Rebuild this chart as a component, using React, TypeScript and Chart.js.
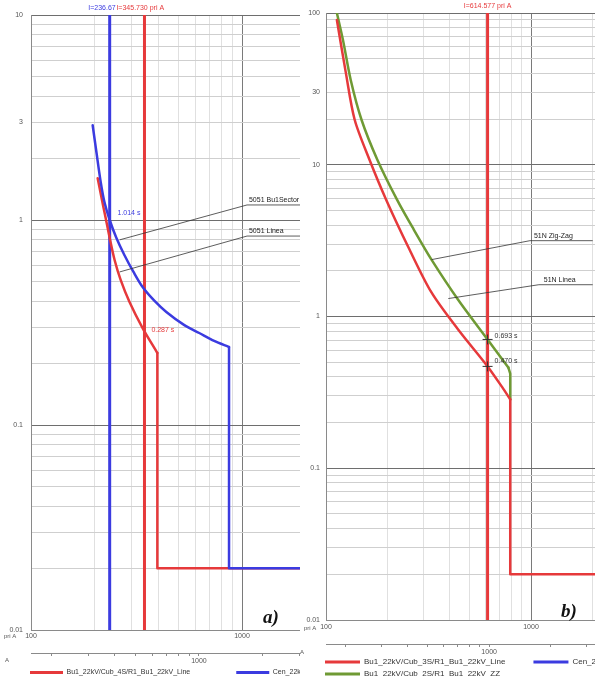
import React, { useEffect, useRef } from 'react';
import { Chart, registerables } from 'chart.js';

Chart.register(...registerables);

const FONT = '"Liberation Sans", Arial, Helvetica, sans-serif';
Chart.defaults.font.family = FONT;

const RED = '#e6393b';
const BLUE = '#3b3be0';
const GREEN = '#6f9a34';
const X2_RATIO = 1.6;

// ---------------- Panel a) ----------------
const aXTickLabels = ['100', '1000'];
const aX2TickLabels = ['1000'];
const aYTickLabels = ['0.01', '0.1', '1', '3', '10'];
const aRedCurveI = [207, 216, 226, 236, 249, 266, 293, 338, 397];
const aRedCurveT = [1.6, 1.28, 1.02, 0.817, 0.638, 0.51, 0.398, 0.297, 0.2245];
const aRedStepI = [397, 397, 10000];
const aRedStepT = [0.2245, 0.02, 0.02];
const aBlueCurveI = [196, 205, 214, 223, 236, 254, 277, 306, 338, 385, 438, 533, 627, 738, 868];
const aBlueCurveT = [2.9, 2.08, 1.53, 1.22, 1.0, 0.817, 0.675, 0.558, 0.471, 0.403, 0.356, 0.307, 0.281, 0.257, 0.24];
const aBlueStepI = [868, 868, 10000];
const aBlueStepT = [0.24, 0.02, 0.02];
const aBluePickupI = [236, 236];
const aRedPickupI = [345, 345];
const aPickupT = [0.01, 10];
const aLegendNames = ['Bu1_22kV/Cub_4S/R1_Bu1_22kV_Line', 'Cen_22kV/Cub_1S/R1_Cen_22kV_Line'];

// ---------------- Panel b) ----------------
const bXTickLabels = ['100', '1000'];
const bX2TickLabels = ['1000'];
const bYTickLabels = ['0.01', '0.1', '1', '10', '30', '100'];
const bRedCurveI = [113, 125, 138, 163, 196.5, 253, 327, 441, 614, 725, 792];
const bRedCurveT = [90, 40.3, 19.8, 10.8, 5.89, 2.84, 1.44, 0.821, 0.469, 0.341, 0.284];
const bRedStepI = [792, 792, 10000];
const bRedStepT = [0.284, 0.02, 0.02];
const bGreenCurveI = [113, 121, 132, 149, 178, 222, 268, 327, 441, 614, 725, 775];
const bGreenCurveT = [100, 66.4, 36.2, 19.8, 10.8, 5.89, 3.74, 2.37, 1.29, 0.706, 0.521, 0.462];
const bGreenStepI = [775, 792, 792];
const bGreenStepT = [0.462, 0.42, 0.284];
const bPickupI = [614, 614];
const bPickupT = [0.01, 100];
const bMarkI = [614, 614];
const bMarkT = [0.706, 0.469];
const bLegendNames = ['Bu1_22kV/Cub_3S/R1_Bu1_22kV_Line', 'Cen_22kV/Cub_1S/R1_Cen_22kV_Line', 'Bu1_22kV/Cub_2S/R1_Bu1_22kV_ZZ'];

const pts = (xs: number[], ys: number[]) => xs.map((x, i) => ({ x, y: ys[i] }));
const isPow10 = (v: number) => Math.abs(Math.log10(v) - Math.round(Math.log10(v))) < 1e-6;
const isIntMantissa = (v: number) => {
  const m = v / Math.pow(10, Math.floor(Math.log10(v) + 1e-9));
  return Math.abs(m - Math.round(m)) < 1e-6;
};
const matchLabel = (v: number, labels: string[]) =>
  labels.find((l) => Math.abs(parseFloat(l) - v) / parseFloat(l) < 1e-6) ?? '';

function lineDs(label: string, data: any[], color: string, width: number, order: number, tension = 0, inLegend = false) {
  return {
    label, data, borderColor: color, backgroundColor: color, borderWidth: width,
    pointRadius: 0, pointHoverRadius: 0, tension, fill: false, order, inLegend,
    borderCapStyle: 'round', borderJoinStyle: 'round',
  };
}

function makeNotes(cfg: any) {
  return {
    id: 'notes',
    afterLayout(chart: any) {
      const lg = chart.legend;
      if (lg) { lg.left += cfg.legendShift; lg.right += cfg.legendShift; }
    },
    afterDatasetsDraw(chart: any) {
      const { ctx, chartArea } = chart;
      const sx = chart.scales.x, sy = chart.scales.y;
      ctx.save();
      for (const l of cfg.lines) {
        ctx.beginPath();
        l.forEach((p: number[], i: number) => {
          const px = sx.getPixelForValue(p[0]);
          const py = sy.getPixelForValue(p[1]);
          if (i === 0) ctx.moveTo(px, py); else ctx.lineTo(px, py);
        });
        ctx.lineWidth = 0.8;
        ctx.strokeStyle = '#333';
        ctx.stroke();
      }
      for (const t of cfg.texts) {
        ctx.font = `${t.size || 7}px ${FONT}`;
        ctx.fillStyle = t.color || '#222';
        ctx.textAlign = t.align || 'left';
        ctx.textBaseline = 'middle';
        const px = sx.getPixelForValue(t.x);
        const py = t.y === undefined ? chartArea.top - 7 : sy.getPixelForValue(t.y);
        ctx.fillText(t.text, px, py);
      }
      for (const f of cfg.fixed) {
        ctx.font = `6px ${FONT}`;
        ctx.fillStyle = '#555';
        ctx.textAlign = 'left';
        ctx.textBaseline = 'middle';
        ctx.fillText(f.text, f.px, f.py);
      }
      ctx.restore();
    },
  };
}

function buildOptions(p: any) {
  const tickFont = { size: p.tickFont, family: FONT };
  return {
    responsive: false,
    animation: false,
    devicePixelRatio: 1,
    events: [],
    layout: { padding: { left: 0, top: p.padTop, right: 0, bottom: 0 } },
    plugins: {
      tooltip: { enabled: false },
      legend: {
        display: true,
        position: 'bottom',
        align: 'start',
        labels: {
          font: { size: p.legendFont, family: FONT },
          color: '#333',
          boxWidth: p.legendBox,
          boxHeight: 3,
          padding: 4,
          generateLabels: (chart: any) =>
            Chart.defaults.plugins.legend.labels
              .generateLabels(chart)
              .filter((it: any) => chart.data.datasets[it.datasetIndex].inLegend)
              .sort((a: any, b: any) => a.datasetIndex - b.datasetIndex)
              .map((it: any, i: number) => ({
                ...it,
                lineWidth: 0,
                text: i === 0 ? it.text + '\u2003'.repeat(p.legendGap) : it.text,
              })),
        },
      },
    },
    scales: {
      x: {
        type: 'logarithmic', position: 'bottom', min: 100, max: 10000, weight: 0,
        afterFit: (s: any) => { s.height = p.xHeight; },
        afterBuildTicks: (s: any) => { s.ticks = s.ticks.filter((t: any) => isIntMantissa(t.value)); },
        border: { display: true, color: '#8a8a8a', width: 1 },
        grid: {
          drawTicks: false,
          color: (c: any) => (c.tick && isPow10(c.tick.value) ? '#7a7a7a' : '#e0e0e0'),
          lineWidth: 1,
        },
        ticks: {
          autoSkip: false, maxRotation: 0, padding: p.xPad, font: tickFont, color: '#555',
          callback: (v: any) => matchLabel(Number(v), p.xLabels),
        },
      },
      x2: {
        type: 'logarithmic', position: 'bottom', min: 100 * X2_RATIO, max: 10000 * X2_RATIO, weight: 1,
        afterFit: (s: any) => { s.height = p.x2Height; },
        afterBuildTicks: (s: any) => { s.ticks = s.ticks.filter((t: any) => isIntMantissa(t.value)); },
        border: { display: true, color: '#8a8a8a', width: 1 },
        grid: { drawOnChartArea: false, drawTicks: true, tickLength: 3, color: '#8a8a8a' },
        ticks: {
          autoSkip: false, maxRotation: 0, padding: 1, font: tickFont, color: '#555',
          callback: (v: any) => matchLabel(Number(v), p.x2Labels),
        },
      },
      y: {
        type: 'logarithmic', position: 'left', min: p.yMin, max: p.yMax,
        afterFit: (s: any) => { s.width = p.yWidth; },
        afterBuildTicks: (s: any) => { s.ticks = s.ticks.filter((t: any) => isIntMantissa(t.value)); },
        border: { display: true, color: '#8a8a8a', width: 1 },
        grid: {
          drawTicks: false,
          color: (c: any) => (c.tick && isPow10(c.tick.value) ? '#6e6e6e' : '#cfcfcf'),
          lineWidth: 1,
        },
        ticks: {
          autoSkip: false, padding: p.yPad, font: tickFont, color: '#555',
          callback: (v: any) => matchLabel(Number(v), p.yLabels),
        },
      },
    },
  };
}

function buildA() {
  const datasets = [
    lineDs(aLegendNames[0], pts(aRedCurveI, aRedCurveT), RED, 2.5, 3, 0.3, true),
    lineDs(aLegendNames[1], pts(aBlueCurveI, aBlueCurveT), BLUE, 2.5, 1, 0.3, true),
    lineDs('redStep', pts(aRedStepI, aRedStepT), RED, 2.5, 4),
    lineDs('blueStep', pts(aBlueStepI, aBlueStepT), BLUE, 2.5, 2),
    lineDs('bluePickup', pts(aBluePickupI, aPickupT), BLUE, 3, 5),
    lineDs('redPickup', pts(aRedPickupI, aPickupT), RED, 3, 6),
  ];
  const notes = makeNotes({
    legendShift: 26,
    lines: [
      [[263, 0.8], [1056, 1.184], [2500, 1.184]],
      [[263, 0.558], [1056, 0.835], [2500, 0.835]],
    ],
    texts: [
      { x: 252, text: 'I=236.67', color: BLUE, align: 'right' },
      { x: 254, text: 'I=345.730 pri A', color: RED, align: 'left' },
      { x: 257, y: 1.08, text: '1.014 s', color: BLUE },
      { x: 372, y: 0.29, text: '0.287 s', color: RED },
      { x: 1079, y: 1.25, text: '5051 Bu1Sector' },
      { x: 1079, y: 0.884, text: '5051 Linea' },
    ],
    fixed: [
      { px: 4, py: 636, text: 'pri A' },
      { px: 5, py: 660, text: 'A' },
    ],
  });
  const options = buildOptions({
    yWidth: 31, padTop: 15, xHeight: 23, x2Height: 12, yMin: 0.01, yMax: 10,
    tickFont: 7, legendFont: 7, legendBox: 33, xPad: 2, yPad: 8, legendGap: 6,
    xLabels: aXTickLabels, x2Labels: aX2TickLabels, yLabels: aYTickLabels,
  });
  return { type: 'line', data: { datasets }, options, plugins: [notes] };
}

function buildB() {
  const datasets = [
    lineDs(bLegendNames[0], pts(bRedCurveI, bRedCurveT), RED, 2.5, 2, 0.3, true),
    lineDs(bLegendNames[1], [], BLUE, 2.5, 9, 0, true),
    lineDs(bLegendNames[2], pts(bGreenCurveI, bGreenCurveT), GREEN, 2.5, 3, 0.3, true),
    lineDs('redStep', pts(bRedStepI, bRedStepT), RED, 2.5, 2),
    lineDs('greenStep', pts(bGreenStepI, bGreenStepT), GREEN, 2.5, 3),
    lineDs('pickup', pts(bPickupI, bPickupT), RED, 3, 5),
    {
      label: 'marks', data: pts(bMarkI, bMarkT), showLine: false, pointStyle: 'cross',
      pointRadius: 5, borderColor: '#333', backgroundColor: '#333', borderWidth: 1, order: 0, inLegend: false,
    },
  ];
  const notes = makeNotes({
    legendShift: 21,
    lines: [
      [[327, 2.37], [988, 3.16], [2000, 3.16]],
      [[395, 1.313], [1093, 1.62], [2000, 1.62]],
    ],
    texts: [
      { x: 614, text: 'I=614.577 pri A', color: RED, align: 'center' },
      { x: 664, y: 0.74, text: '0.693 s', color: '#333' },
      { x: 664, y: 0.506, text: '0.470 s', color: '#333' },
      { x: 1033, y: 3.41, text: '51N Zig-Zag' },
      { x: 1155, y: 1.75, text: '51N Linea' },
    ],
    fixed: [
      { px: 4, py: 628, text: 'pri A' },
      { px: 0, py: 652, text: 'A' },
    ],
  });
  const options = buildOptions({
    yWidth: 26, padTop: 13, xHeight: 24, x2Height: 10, yMin: 0.01, yMax: 100,
    tickFont: 7, legendFont: 8, legendBox: 35, xPad: 3, yPad: 6, legendGap: 3,
    xLabels: bXTickLabels, x2Labels: bX2TickLabels, yLabels: bYTickLabels,
  });
  return { type: 'line', data: { datasets }, options, plugins: [notes] };
}

export default function App() {
  const refA = useRef<HTMLCanvasElement | null>(null);
  const refB = useRef<HTMLCanvasElement | null>(null);
  useEffect(() => {
    const ca = new Chart(refA.current as any, buildA() as any);
    const cb = new Chart(refB.current as any, buildB() as any);
    return () => { ca.destroy(); cb.destroy(); };
  }, []);
  const tag: React.CSSProperties = {
    position: 'absolute', fontFamily: '"Liberation Serif", "Times New Roman", serif',
    fontWeight: 'bold', fontStyle: 'italic', fontSize: 19, lineHeight: '19px', color: '#111',
  };
  return (
    <div style={{ position: 'absolute', left: 0, top: 0, width: 595, height: 677, overflow: 'hidden', background: '#fff' }}>
      <div style={{ position: 'absolute', left: 0, top: 0, width: 300, height: 677, overflow: 'hidden' }}>
        <canvas ref={refA} width={455} height={686} style={{ display: 'block' }} />
      </div>
      <div style={{ position: 'absolute', left: 300, top: 0, width: 295, height: 677, overflow: 'hidden' }}>
        <canvas ref={refB} width={442} height={688} style={{ display: 'block' }} />
      </div>
      <div style={{ ...tag, left: 263, top: 607 }}>a)</div>
      <div style={{ ...tag, left: 561, top: 601 }}>b)</div>
    </div>
  );
}
